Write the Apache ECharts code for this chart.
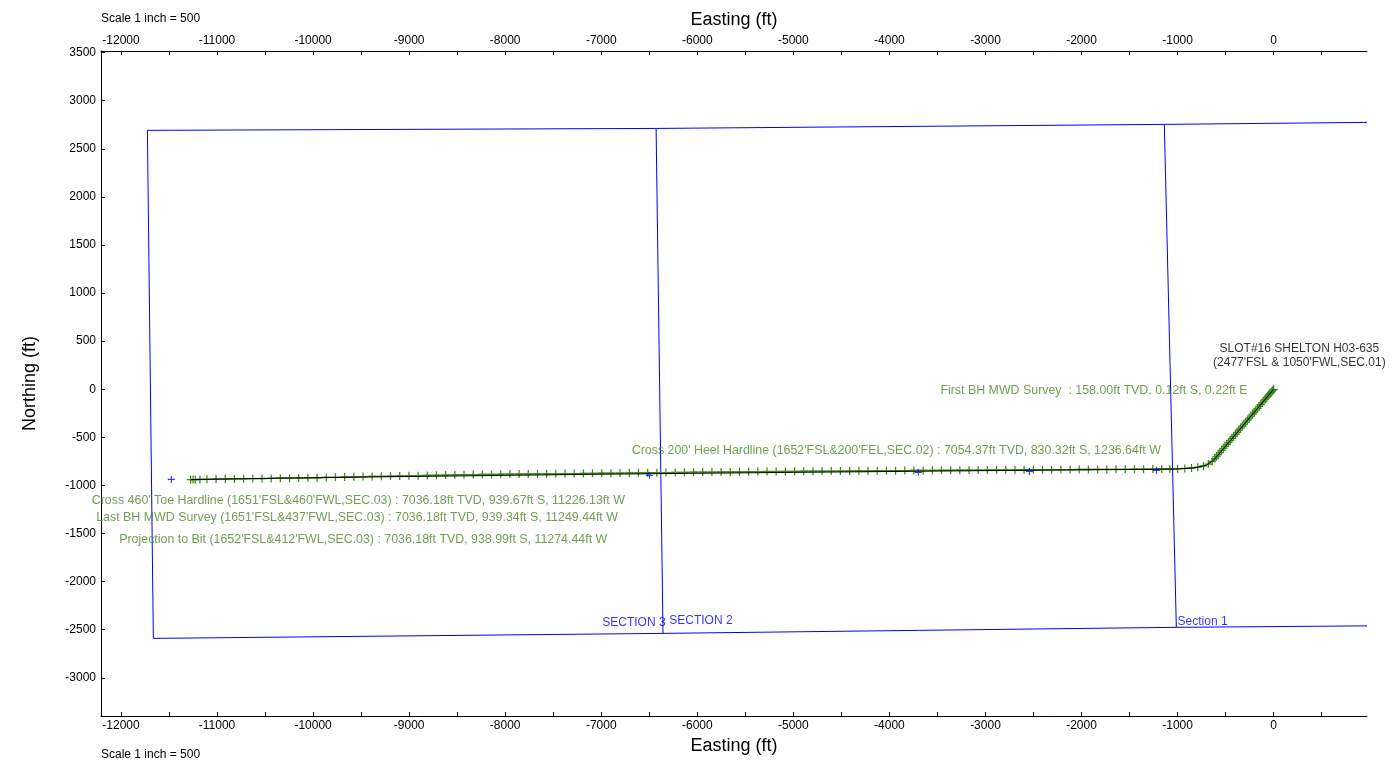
<!DOCTYPE html>
<html>
<head>
<meta charset="utf-8">
<script src="https://cdn.jsdelivr.net/npm/echarts@6.0.0/dist/echarts.min.js"></script>
<style>
html,body{margin:0;padding:0;background:#fff;}
#chart{width:1395px;height:768px;}
</style>
</head>
<body>
<div id="chart"></div>
<script>
// ---- axis ticks ----
var xTickValues = [-12000,-11500,-11000,-10500,-10000,-9500,-9000,-8500,-8000,-7500,-7000,-6500,-6000,-5500,-5000,-4500,-4000,-3500,-3000,-2500,-2000,-1500,-1000,-500,0,500];
var xLabelValues = [-12000,-11000,-10000,-9000,-8000,-7000,-6000,-5000,-4000,-3000,-2000,-1000,0];
var yTickValues = [-3000,-2500,-2000,-1500,-1000,-500,0,500,1000,1500,2000,2500,3000,3500];

// ---- section boundaries (Easting, Northing in ft) ----
var sectionTopE = [-11725, -6429, -1138, 972];
var sectionTopN = [2692, 2712, 2754, 2775];
var sectionBotE = [-11663, -6357, -1013, 972];
var sectionBotN = [-2590, -2538, -2475, -2460];

// ---- survey stations (actual wellpath) ----
var surveyE = [0.22,-5,-12,-20,-29,-39,-50,-62,-75,-89,-104,-119,-135,-151,-168,-185,-202,-219,-236,-254,-272,-290,-308,-326,-344,-362,-380,-398,-416,-434,-452,-470,-488,-506,-524,-542,-560,-578,-596,-612,
  -640,-680,-730,-790,-855,-925,-1000,-1080,
  -1165,-1258,-1354,-1449,-1545,-1641,-1737,-1832,-1928,-2024,-2119,-2215,-2311,-2406,-2502,-2598,-2693,-2789,-2884,-2980,
  -3076,-3171,-3267,-3362,-3458,-3553,-3649,-3745,-3840,-3936,-4031,-4127,-4223,-4318,-4414,-4510,-4605,-4701,-4796,-4892,
  -4987,-5083,-5179,-5274,-5370,-5465,-5561,-5657,-5752,-5848,-5943,-6039,-6135,-6230,-6326,-6421,-6517,-6613,-6708,-6804,
  -6899,-6995,-7091,-7186,-7282,-7377,-7473,-7568,-7664,-7760,-7855,-7951,-8046,-8142,-8238,-8333,-8429,-8524,-8620,-8716,
  -8811,-8907,-9002,-9098,-9194,-9289,-9385,-9480,-9576,-9672,-9767,-9863,-9958,-10054,-10150,-10245,-10341,-10436,-10532,-10627,
  -10723,-10819,-10914,-11010,-11105,-11178,-11226.13,-11249.44,-11274.44];
var surveyN = [-0.12,-6,-14,-24,-35,-46,-59,-73,-88,-105,-122,-140,-159,-178,-198,-218,-238,-258,-279,-300,-321,-342,-363,-384,-405,-426,-447,-468,-489,-510,-531,-552,-573,-594,-615,-636,-658,-680,-701,-720,
  -750,-777,-797,-810,-818,-823,-826,-828,
  -829,-830,-831,-831,-832,-832,-833,-833,-834,-834,-835,-835,-836,-836,-837,-837,-838,-838,-838,-839,
  -840,-840,-841,-842,-842,-843,-844,-844,-845,-846,-846,-847,-848,-848,-849,-850,-850,-851,-852,-852,
  -853,-854,-855,-855,-856,-857,-858,-859,-860,-861,-861,-862,-864,-865,-866,-867,-868,-869,-870,-871,
  -872,-873,-874,-875,-876,-877,-878,-879,-880,-881,-881,-882,-883,-885,-886,-887,-888,-889,-892,-894,
  -896,-898,-900,-901,-903,-905,-906,-908,-910,-912,-915,-917,-920,-921,-923,-924,-925,-927,-928,-929,
  -931,-932,-933,-934,-936,-938,-939.67,-939.34,-938.99];

// ---- planned wellpath ----
var planE = [0,-615,-700,-820,-1000,-1237,-3000,-5000,-7000,-9000,-10500,-11274];
var planN = [0,-728,-790,-818,-829,-832,-846,-864,-883,-907,-926,-939];

// ---- hardline / target markers ----
var markE = [-11476,-6499,-3699,-2543,-1221];
var markN = [-937,-895,-864,-854,-843];

// ---- annotation texts ----
var noteTexts = [
  "First BH MWD Survey  : 158.00ft TVD, 0.12ft S, 0.22ft E",
  "Cross 200' Heel Hardline (1652'FSL&200'FEL,SEC.02) : 7054.37ft TVD, 830.32ft S, 1236.64ft W",
  "Cross 460' Toe Hardline (1651'FSL&460'FWL,SEC.03) : 7036.18ft TVD, 939.67ft S, 11226.13ft W",
  "Last BH MWD Survey (1651'FSL&437'FWL,SEC.03) : 7036.18ft TVD, 939.34ft S, 11249.44ft W",
  "Projection to Bit (1652'FSL&412'FWL,SEC.03) : 7036.18ft TVD, 938.99ft S, 11274.44ft W"
];
var noteE = [-272, -3928, -9529, -9542, -9478];
var noteN = [-17, -635, -1155, -1331, -1560];
var noteAlign = ['right','center','center','center','center'];

var slotText = "SLOT#16 SHELTON H03-635\n(2477'FSL & 1050'FWL,SEC.01)";
var slotE = 268, slotN = 352;

var sectionLabels = ["SECTION 3", "SECTION 2", "Section 1"];
var sectionLabelE = [-6990, -6292, -1000];
var sectionLabelN = [-2424, -2410, -2416];

// ---------------------------------------------
var FONT = "'Liberation Sans', Arial, sans-serif";
var GREEN_TXT = '#4a8a28';
var GREEN = '#3f8a1c';
var BLUE = '#0000ff';
var CROSS = 'path://M3.8,0H5.2V3.8H9V5.2H5.2V9H3.8V5.2H0V3.8H3.8Z';

function zip(a, b) { return a.map(function (v, i) { return [v, b[i]]; }); }

var series = [];
// boundaries
series.push({type:'line', data: zip(sectionTopE, sectionTopN), symbol:'none', lineStyle:{color:BLUE, width:1}, silent:true, z:2});
series.push({type:'line', data: zip(sectionBotE, sectionBotN), symbol:'none', lineStyle:{color:BLUE, width:1}, silent:true, z:2});
for (var i = 0; i < 3; i++) {
  series.push({type:'line', data: [[sectionTopE[i], sectionTopN[i]], [sectionBotE[i], sectionBotN[i]]], symbol:'none', lineStyle:{color:BLUE, width:1}, silent:true, z:2});
}
// survey
series.push({type:'line', data: zip(surveyE, surveyN), showSymbol:true, showAllSymbol:true,
  symbol:CROSS, symbolSize:8, symbolKeepAspect:true,
  itemStyle:{color:GREEN}, lineStyle:{color:GREEN, width:1.3}, silent:true, z:3});
// plan
series.push({type:'line', data: zip(planE, planN), symbol:'none', lineStyle:{color:'#000', width:1}, silent:true, z:4});
// blue marks
series.push({type:'scatter', data: zip(markE, markN), symbol:CROSS, symbolSize:7,
  itemStyle:{color:BLUE}, silent:true, z:5});
// annotations
var noteData = noteTexts.map(function (t, i) {
  return {value:[noteE[i], noteN[i]], label:{show:true, formatter:t, position: noteAlign[i] === 'right' ? 'left' : 'inside', distance:0, color:GREEN_TXT, fontSize:12.4, fontFamily:FONT}};
});
noteData.push({value:[slotE, slotN], label:{show:true, formatter:slotText, position:'inside', color:'#000', fontSize:12, lineHeight:14, fontFamily:FONT, align:'center'}});
sectionLabels.forEach(function (t, i) {
  noteData.push({value:[sectionLabelE[i], sectionLabelN[i]], label:{show:true, formatter:t, position:'right', distance:0, color:BLUE, fontSize:12, fontFamily:FONT}});
});
series.push({type:'scatter', data: noteData, symbolSize:0, silent:true, z:10, clip:false});

var xCommon = {
  type:'value', min:-12208, max:972,
  axisLine:{show:true, onZero:false, lineStyle:{color:'#000', width:1}},
  axisTick:{show:true, inside:true, length:4, customValues:xTickValues, lineStyle:{color:'#000'}},
  axisLabel:{customValues:xLabelValues, color:'#000', fontSize:12, fontFamily:FONT, margin:4},
  splitLine:{show:false},
  name:'Easting (ft)', nameLocation:'middle',
  nameTextStyle:{color:'#000', fontSize:18, fontFamily:FONT}
};
var fmt = function(v){return String(v);};
var xTop = JSON.parse(JSON.stringify(xCommon));
xTop.position = 'top'; xTop.nameGap = 22; xTop.axisLabel.formatter = fmt;
var xBot = JSON.parse(JSON.stringify(xCommon));
xBot.position = 'bottom'; xBot.nameGap = 20; xBot.axisLabel.formatter = fmt;

var option = {
  animation:false,
  backgroundColor:'#fff',
  grid:{left:101, right:28, top:51, bottom:52, containLabel:false},
  xAxis:[xBot, xTop],
  yAxis:{
    type:'value', min:-3397, max:3517,
    axisLine:{show:true, onZero:false, lineStyle:{color:'#000', width:1}},
    axisTick:{show:true, inside:true, length:4, customValues:yTickValues, lineStyle:{color:'#000'}},
    axisLabel:{customValues:yTickValues, formatter:fmt, color:'#000', fontSize:12, fontFamily:FONT, margin:5},
    splitLine:{show:false},
    name:'Northing (ft)', nameLocation:'middle', nameGap:62,
    nameTextStyle:{color:'#000', fontSize:18, fontFamily:FONT}
  },
  graphic:[
    {type:'text', left:101, top:13, style:{text:'Scale 1 inch = 500', fill:'#000', font:'12px ' + FONT}},
    {type:'text', left:101, top:749, style:{text:'Scale 1 inch = 500', fill:'#000', font:'12px ' + FONT}}
  ],
  series: series
};
option.series.forEach(function(s){ s.xAxisIndex = 0; s.yAxisIndex = 0; });

var chart = echarts.init(document.getElementById('chart'), null, {renderer:'canvas'});
chart.setOption(option);
</script>
</body>
</html>
